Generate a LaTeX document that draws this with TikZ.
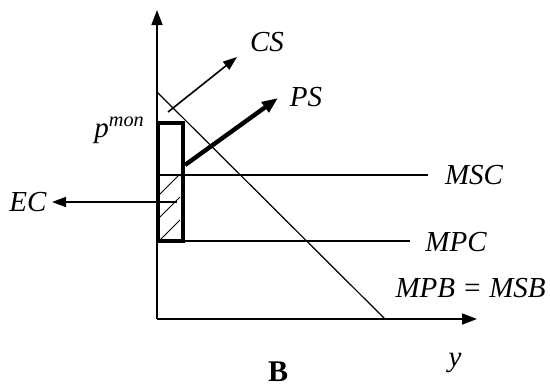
\documentclass[tikz,border=0pt]{standalone}
\usepackage{fontspec}
\setmainfont{Liberation Serif}
\usetikzlibrary{arrows.meta, positioning}

\tikzset{
  axis/.style={line width=0.8pt, -{Triangle[length=7.5pt, width=5.5pt]}},
  curve/.style={line width=0.6pt},
  surplus/.style={line width=0.8pt, -{Triangle[length=7pt, width=5pt]}},
  boldarrow/.style={line width=2.2pt, -{Triangle[length=8pt, width=6pt]}},
  box/.style={line width=2pt},
  hatch/.style={line width=0.5pt},
  lbl/.style={font=\fontsize{14.5}{17}\selectfont\itshape, inner sep=1pt}
}

\begin{document}
\begin{tikzpicture}[x=0.5pt, y=-0.5pt]
  \useasboundingbox (0,0) rectangle (550,387);
  % Axes
  \coordinate (O) at (157,319);
  \coordinate (ytop) at (157,10);
  \coordinate (xend) at (477,319);
  \draw[axis] (O) -- (ytop);
  \draw[axis] (O) -- (xend);

  % Demand MPB = MSB
  \coordinate (dtop) at (157,92);
  \coordinate (dbot) at (385,319);
  \draw[curve] (dtop) -- (dbot);

  % Cost lines
  \coordinate (msc0) at (158,175);
  \coordinate (msc1) at (428,175);
  \coordinate (mpc0) at (158,241);
  \coordinate (mpc1) at (410,241);
  \draw[curve] (msc0) -- (msc1);
  \draw[curve] (mpc0) -- (mpc1);

  % Hatched part of the box (external cost)
  \begin{scope}
    \clip (158,175) rectangle (183,241);
    \foreach \k in {0,1,2}
      \draw[hatch] (160,{194+23*\k}) -- ++(20,-20);
  \end{scope}
  % Box under the monopoly price
  \draw[box] (158,123) rectangle (183,241);

  % Labels of the lines
  \node[lbl] (MSC) at (474,175) {MSC};
  \node[lbl] (MPC) at (456,242) {MPC};
  \node[lbl, anchor=east] (MPB) at (548,288) {MPB = MSB};
  \node[lbl, anchor=base west] (pmon) at (92,137) {p\textsuperscript{mon}};

  % Surplus arrows
  \node[lbl] (CS) at (267,42) {CS};
  \coordinate (cs0) at (168,112);
  \coordinate (cs1) at (237,57);
  \draw[surplus] (cs0) -- (cs1);

  \node[lbl] (PS) at (306,97) {PS};
  \coordinate (ps0) at (185,165);
  \coordinate (ps1) at (278,98);
  \draw[boldarrow] (ps0) -- (ps1);

  \node[lbl] (EC) at (28,202) {EC};
  \coordinate (ec0) at (177,202);
  \coordinate (ec1) at (52,202);
  \draw[surplus] (ec0) -- (ec1);

  % Axis label and panel title
  \node[lbl] (y) at (455,363) {y};
  \node[font=\fontsize{15}{17}\selectfont\bfseries, inner sep=0pt, anchor=base] (B) at (278,381) {B};
\end{tikzpicture}
\end{document}
